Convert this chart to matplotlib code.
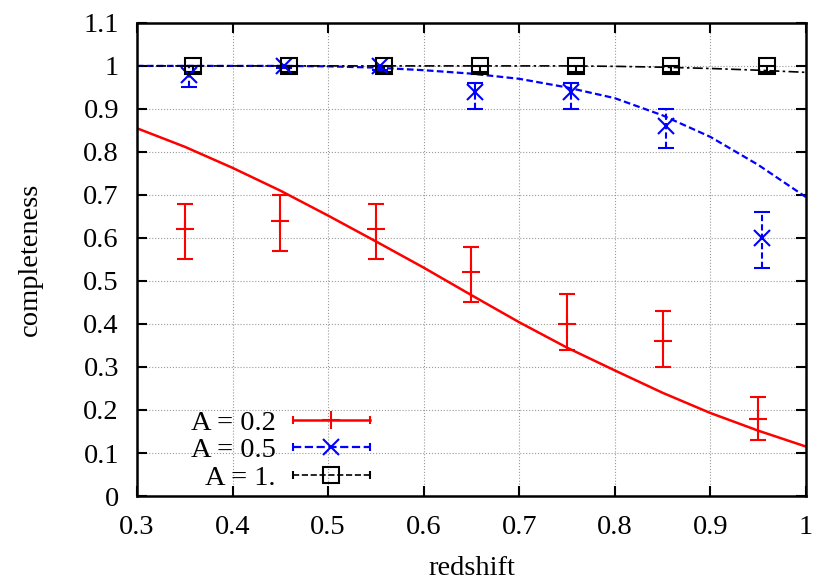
# completeness vs redshift, gnuplot-like look

import matplotlib.pyplot as plt
from matplotlib.lines import Line2D
from matplotlib.legend_handler import HandlerBase
from matplotlib.ticker import FuncFormatter

plt.rcParams['font.family'] = ['Liberation Serif', 'DejaVu Serif']
plt.rcParams['font.size'] = 20.5

# measured points
z_a02 = [0.35, 0.45, 0.55, 0.65, 0.75, 0.85, 0.95]
c_a02 = [0.62, 0.64, 0.62, 0.52, 0.40, 0.36, 0.18]
lo_a02 = [0.55, 0.57, 0.55, 0.45, 0.34, 0.30, 0.13]
hi_a02 = [0.68, 0.70, 0.68, 0.58, 0.47, 0.43, 0.23]

z_a05 = [0.354, 0.454, 0.554, 0.654, 0.754, 0.854, 0.954]
c_a05 = [0.98, 1.0, 1.0, 0.94, 0.94, 0.86, 0.60]
lo_a05 = [0.95, 0.995, 0.99, 0.90, 0.90, 0.81, 0.53]
hi_a05 = [1.0, 1.0, 1.0, 0.96, 0.96, 0.90, 0.66]

z_a1 = [0.359, 0.459, 0.559, 0.659, 0.759, 0.859, 0.959]
c_a1 = [1.0, 1.0, 1.0, 1.0, 1.0, 1.0, 1.0]
lo_a1 = [0.985, 0.985, 0.985, 0.985, 0.985, 0.985, 0.985]
hi_a1 = [1.0, 1.0, 1.0, 1.0, 1.0, 1.0, 1.0]

# model curves
z_model = [0.3, 0.35, 0.4, 0.45, 0.5, 0.55, 0.6, 0.65, 0.7, 0.75, 0.8, 0.85, 0.9, 0.95, 1.0]
m_a02 = [0.855, 0.812, 0.763, 0.71, 0.652, 0.592, 0.531, 0.467, 0.404, 0.345, 0.292, 0.24, 0.193, 0.152, 0.115]
m_a05 = [1.0, 1.0, 1.0, 1.0, 0.999, 0.996, 0.99, 0.982, 0.97, 0.95, 0.925, 0.885, 0.835, 0.77, 0.695]
m_a1 = [1.0, 1.0, 1.0, 1.0, 1.0, 1.0, 1.0, 1.0, 1.0, 1.0, 0.999, 0.997, 0.994, 0.99, 0.985]

labels = ["A = 0.2", "A = 0.5", "A = 1."]


class KeyHandler(HandlerBase):
	# gnuplot style key: line with end caps and the point symbol in the middle
	def create_artists(self, legend, orig, xd, yd, width, height, fontsize, trans):
		y = height / 2 - yd
		x0, x1 = -xd, -xd + width
		line = Line2D([x0, x1], [y, y], color=orig.get_color(), linestyle=orig.get_linestyle(),
			linewidth=orig.get_linewidth(), marker='|', markersize=6, markeredgewidth=1.5)
		mid = Line2D([(x0 + x1) / 2], [y], color=orig.get_color(), linestyle='none',
			marker=orig.get_marker(), markersize=orig.get_markersize(),
			markeredgewidth=orig.get_markeredgewidth(), fillstyle='none')
		line.set_transform(trans)
		mid.set_transform(trans)
		return [line, mid]


fig = plt.figure(figsize=(8.3, 5.87), dpi=100)
ax = fig.add_axes([0.165, 0.155, 0.806, 0.806])

ax.grid(True, color='gray', linestyle=':', linewidth=0.8, alpha=0.8)
ax.set_axisbelow(True)

series = [
	(z_a02, c_a02, lo_a02, hi_a02, z_model, m_a02, 'red', '-', '+', 13, 1.8),
	(z_a05, c_a05, lo_a05, hi_a05, z_model, m_a05, 'blue', (0, (3, 1.5)), 'x', 11, 1.6),
	(z_a1, c_a1, lo_a1, hi_a1, z_model, m_a1, 'black', (0, (6, 2, 1.5, 2)), 's', 11, 1.2),
]

handles = []
for z, c, lo, hi, zm, m, col, ls, mk, ms, lw in series:
	err = [[c[i] - lo[i] for i in range(len(c))], [hi[i] - c[i] for i in range(len(c))]]
	eb = ax.errorbar(z, c, yerr=err, fmt=mk, color=col, markersize=ms, markeredgewidth=1.5,
		fillstyle='none', capsize=6, capthick=1.5, elinewidth=1.5)
	eb[2][0].set_linestyle(ls)
	ax.plot(zm, m, color=col, linestyle=ls, linewidth=lw)
	handles.append(Line2D([], [], color=col, linestyle=ls, linewidth=lw, marker=mk,
		markersize=ms, markeredgewidth=1.5))

ax.legend(handles, labels, handler_map={Line2D: KeyHandler()}, markerfirst=False,
	frameon=False, loc='lower right', bbox_to_anchor=(0.382, -0.037), handlelength=2.7,
	handletextpad=0.6, labelspacing=0.05, borderpad=0.3)

ax.set_xlim(0.3, 1.0)
ax.set_ylim(0, 1.1)
ax.set_xticks([0.3, 0.4, 0.5, 0.6, 0.7, 0.8, 0.9, 1.0])
ax.set_yticks([0, 0.1, 0.2, 0.3, 0.4, 0.5, 0.6, 0.7, 0.8, 0.9, 1.0, 1.1])
fmt = FuncFormatter(lambda v, p: '%g' % round(v, 3))
ax.xaxis.set_major_formatter(fmt)
ax.yaxis.set_major_formatter(fmt)
ax.tick_params(direction='in', length=7, width=1.5, top=True, right=True)
ax.tick_params(axis='y', pad=13)
ax.tick_params(axis='x', pad=14)
for s in ax.spines.values():
	s.set_linewidth(1.8)

ax.set_xlabel("redshift", labelpad=11)
ax.set_ylabel("completeness", labelpad=29)

fig.savefig("out.png", dpi=100)
